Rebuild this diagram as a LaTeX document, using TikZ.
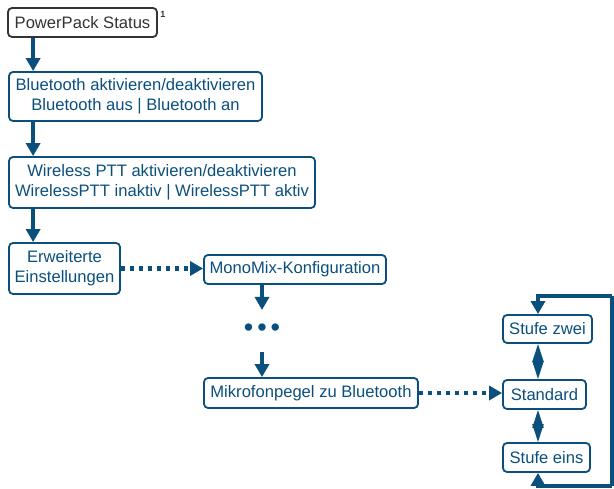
\documentclass[tikz,border=0pt]{standalone}
\usepackage{fontspec}
\setmainfont{Liberation Sans}
\usetikzlibrary{arrows.meta}
\definecolor{menu-blue}{HTML}{0B4F7C}
\definecolor{menu-gray}{HTML}{333333}

\begin{document}
\begin{tikzpicture}[x=1pt, y=-1pt,
        every node/.style={font=\fontsize{16.6}{20}\selectfont},
        menubox/.style={draw=menu-blue, line width=1.8pt, rounded corners=4pt,
            text=menu-blue, align=center, inner sep=0pt},
        flow/.style={menu-blue, line width=4.5pt,
            -{Triangle[width=14pt,length=13pt]}},
        jump/.style={flow, dash pattern=on 4.5pt off 4.5pt},
        swap/.style={menu-blue, line width=2pt,
            {Triangle[width=11pt,length=18pt]}-{Triangle[width=11pt,length=18pt]}}]
      \useasboundingbox (0,0) rectangle (614,489);
      % main menu
      \node[menubox, draw=menu-gray, text=menu-gray,
            minimum width=149pt, minimum height=29pt]
            (PS) at (82.5,22.5) {PowerPack Status};
      \node[text=menu-gray, font=\fontsize{9}{9}\selectfont\bfseries]
            (FN) at (163,14) {1};
      \node[menubox, minimum width=253pt, minimum height=49pt]
            (BT) at (135.5,96.5) {Bluetooth aktivieren/deaktivieren\\
              Bluetooth aus | Bluetooth an};
      \node[menubox, minimum width=306pt, minimum height=51pt]
            (WL) at (162,182.5) {Wireless PTT aktivieren/deaktivieren\\
              WirelessPTT inaktiv | WirelessPTT aktiv};
      \node[menubox, minimum width=111pt, minimum height=51pt]
            (EXT) at (64.5,268.5) {Erweiterte\\ Einstellungen};
      % advanced settings
      \node[menubox, minimum width=182pt, minimum height=29pt]
            (MONO) at (295,269.5) {MonoMix-Konfiguration};
      \node[text=menu-blue, font=\fontsize{27}{27}\selectfont]
            (DOTS) at (262,330) {\textbullet\kern4pt\textbullet\kern4pt\textbullet};
      \node[menubox, minimum width=214pt, minimum height=30pt]
            (MIC) at (311,393) {Mikrofonpegel zu Bluetooth};
      % level choice
      \node[menubox, minimum width=89pt, minimum height=28pt]
            (S2) at (547.5,329) {Stufe zwei};
      \node[menubox, minimum width=83pt, minimum height=29pt]
            (STD) at (544.5,394.5) {Standard};
      \node[menubox, minimum width=87pt, minimum height=29pt]
            (S1) at (546.5,457.5) {Stufe eins};
      \coordinate (TOPR) at (612,296);
      \coordinate (BOTR) at (612,486);
      \coordinate (PRE) at (262,310);
      \coordinate (POST) at (262,352);

      \draw[flow] ([xshift=26pt]PS.south west) -- ([xshift=25pt]BT.north west);
      \draw[flow] ([xshift=25pt]BT.south west) -- ([xshift=25pt]WL.north west);
      \draw[flow] ([xshift=25pt]WL.south west) -- ([xshift=25pt]EXT.north west);
      \draw[jump] (EXT.east) -- (EXT.east -| MONO.west);
      \draw[flow] ([xshift=-33pt]MONO.south) -- (PRE);
      \draw[flow] (POST) -- ([xshift=-49pt]MIC.north);
      \draw[jump] (MIC.east) -- (MIC.east -| STD.west);
      \draw[swap] ([xshift=-9.5pt]S2.south) -- ([xshift=-6.5pt]STD.north);
      \draw[swap] ([xshift=-6.5pt]STD.south) -- ([xshift=-8.5pt]S1.north);
      \draw[menu-blue, line width=4pt] (TOPR) -- (BOTR);
      \draw[flow] (TOPR) -| ([xshift=-9.5pt]S2.north);
      \draw[flow] (BOTR) -| ([xshift=-8.5pt]S1.south);
    \end{tikzpicture}
\end{document}
